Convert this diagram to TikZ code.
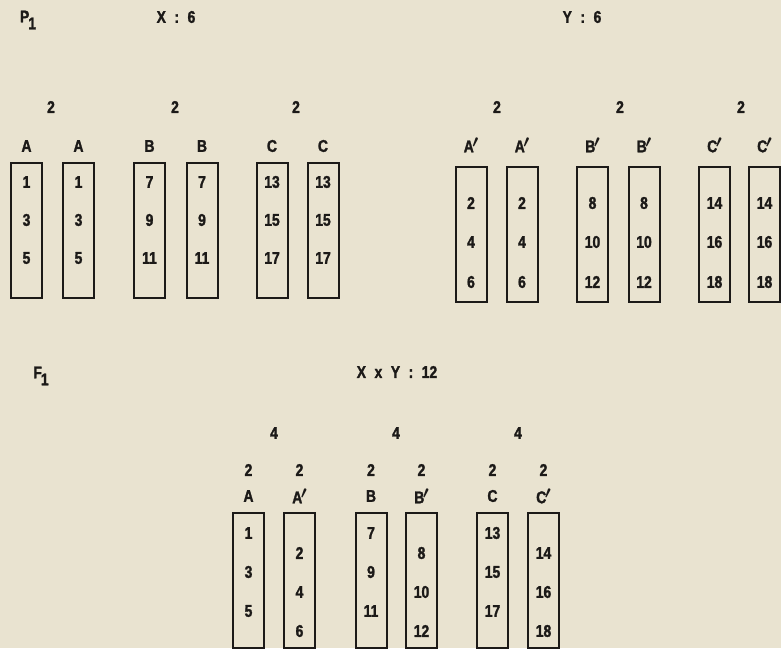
\documentclass[tikz,border=0pt]{standalone}
\usepackage{fontspec}
\setsansfont{Liberation Sans}[FakeStretch=0.82, BoldFeatures={FakeBold=1.6}]
\usetikzlibrary{positioning}
\definecolor{paper}{RGB}{233,227,208}
\definecolor{ink}{RGB}{28,26,24}

\tikzset{
  lab/.style={text=ink, font=\sffamily\bfseries\fontsize{17}{17}\selectfont, inner sep=0pt},
  chrom/.style={draw=ink, line width=2pt, minimum width=31pt, minimum height=135pt, inner sep=0pt},
}
\newcommand{\pr}[1]{#1\kern-1.5pt\raisebox{5pt}{$\boldsymbol{\prime}$}}
\newcommand{\gen}[2]{#1\kern-1pt\raisebox{-7pt}{#2}}
\usepackage{amsmath}

\begin{document}
\begin{tikzpicture}[x=1pt, y=-1pt]
    \fill[paper] (0,0) rectangle (781,648);
    \useasboundingbox (0,0) rectangle (781,648);

    % headings
    \node[lab] (pone) at (28,20) {\gen{P}{1}};
    \node[lab] (xsix) at (176,17) {X\enspace:\enspace6};
    \node[lab] (ysix) at (582,17) {Y\enspace:\enspace6};
    \node[lab] (fone) at (41,376) {\gen{F}{1}};
    \node[lab] (xy) at (397,372) {X\enspace x\enspace Y\enspace:\enspace12};

    % parent X
    \foreach \x in {51,175,296}
        \node[lab] at (\x,107) {2};
    \foreach \l/\x/\a/\b/\c [count=\i] in {A/26.5/1/3/5, A/78.5/1/3/5, B/149.5/7/9/11, B/202/7/9/11, C/272/13/15/17, C/323/13/15/17} {
        \node[chrom] (x\i) at (\x,230) {};
        \node[lab] (xl\i) at (\x,146) {\l};
        \node[lab] (xa\i) at (\x,182) {\a};
        \node[lab] (xb\i) at (\x,220) {\b};
        \node[lab] (xc\i) at (\x,258) {\c};
    }

    % parent Y
    \foreach \x in {497,620,741}
        \node[lab] at (\x,107) {2};
    \foreach \l/\x/\a/\b/\c [count=\i] in {A/471/2/4/6, A/522/2/4/6, B/592.5/8/10/12, B/644/8/10/12, C/714.5/14/16/18, C/764.5/14/16/18} {
        \node[chrom] (y\i) at (\x,234) {};
        \node[lab] (yl\i) at (\x,145) {\pr{\l}};
        \node[lab] (ya\i) at (\x,203) {\a};
        \node[lab] (yb\i) at (\x,242) {\b};
        \node[lab] (yc\i) at (\x,282) {\c};
    }

    % hybrid X x Y
    \foreach \x in {274,396,518}
        \node[lab] at (\x,433) {4};
    \foreach \l/\x [count=\i] in {A/248.5, B/371, C/492.5} {
        \node[chrom] (fx\i) at (\x,580) {};
        \node[lab] (fn\i) at (\x,470) {2};
        \node[lab] (fl\i) at (\x,496) {\l};
    }
    \foreach \l/\x [count=\i] in {A/299.5, B/421.5, C/543.5} {
        \node[chrom] (fy\i) at (\x,580) {};
        \node[lab] (fm\i) at (\x,470) {2};
        \node[lab] (fk\i) at (\x,496) {\pr{\l}};
    }
    \foreach \x/\a/\b/\c in {248.5/1/3/5, 371/7/9/11, 492.5/13/15/17} {
        \node[lab] at (\x,533) {\a};
        \node[lab] at (\x,572) {\b};
        \node[lab] at (\x,611) {\c};
    }
    \foreach \x/\a/\b/\c in {299.5/2/4/6, 421.5/8/10/12, 543.5/14/16/18} {
        \node[lab] at (\x,553) {\a};
        \node[lab] at (\x,592) {\b};
        \node[lab] at (\x,631) {\c};
    }
\end{tikzpicture}
\end{document}
